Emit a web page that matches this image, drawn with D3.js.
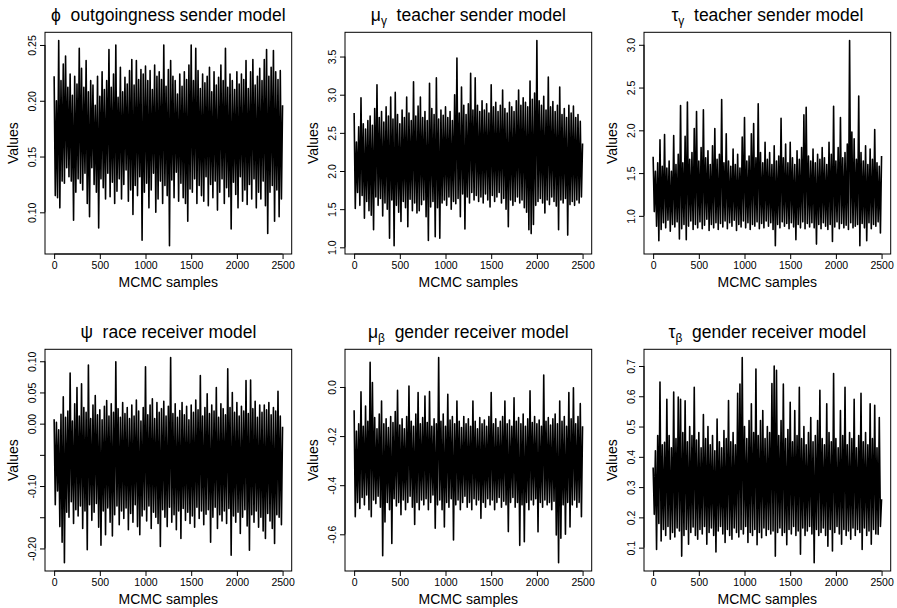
<!DOCTYPE html>
<html><head><meta charset="utf-8">
<script src="https://cdn.jsdelivr.net/npm/d3@7"></script>
<style>
body{margin:0;background:#fff}
svg{display:block}
text{font-family:"Liberation Sans",Arial,Helvetica,sans-serif;fill:#000;white-space:pre}
</style>
</head><body>
<svg id="chart" width="897" height="608"></svg>
<script>
// MCMC iteration numbers of the thinned draws that are drawn (every 12.5th draw of 2500)
const iterations = d3.range(201).map(i => i * 12.5);
const xTicks = [0, 500, 1000, 1500, 2000, 2500];

// ---- traces (alternating upper / lower excursions) ----
const phiOutgoingness = [
.222,.115,.200,.113,.254,.104,.218,.128,.233,.126,
.240,.140,.212,.132,.224,.128,.205,.093,.222,.118,
.215,.130,.247,.126,.229,.120,.212,.135,.236,.108,
.208,.096,.218,.140,.214,.125,.196,.118,.222,.086,
.204,.130,.226,.122,.210,.112,.218,.135,.246,.114,
.212,.127,.224,.108,.250,.119,.203,.130,.230,.112,
.208,.125,.221,.138,.215,.110,.227,.120,.237,.098,
.214,.124,.236,.115,.219,.132,.228,.075,.224,.118,
.231,.126,.218,.104,.227,.120,.210,.135,.232,.100,
.222,.112,.226,.128,.219,.108,.250,.124,.213,.115,
.228,.070,.236,.129,.222,.113,.218,.136,.206,.110,
.224,.126,.213,.113,.226,.108,.219,.092,.232,.121,
.250,.118,.218,.130,.247,.108,.227,.124,.211,.115,
.224,.110,.216,.132,.222,.106,.230,.125,.208,.113,
.226,.128,.214,.102,.221,.118,.232,.130,.218,.108,
.247,.122,.212,.114,.224,.085,.218,.127,.210,.116,
.226,.104,.215,.132,.224,.110,.219,.120,.236,.107,
.211,.125,.226,.112,.237,.130,.214,.104,.222,.118,
.229,.112,.218,.128,.237,.106,.246,.081,.222,.118,
.230,.124,.245,.092,.226,.120,.219,.096,.227,.112,
.196];

const muGammaTeacher = [
2.76,1.51,2.38,1.72,2.58,1.55,2.96,1.68,2.62,1.38,
2.55,1.60,2.66,1.48,2.72,1.42,2.60,1.23,2.82,1.66,
3.13,1.55,2.70,1.64,2.78,1.41,2.64,1.58,2.84,1.50,
2.72,1.12,2.97,1.62,2.68,1.02,3.03,1.55,2.74,1.46,
2.62,1.34,2.80,1.60,2.70,1.52,2.97,1.27,2.76,1.63,
2.66,1.48,3.17,1.58,2.72,1.45,2.85,1.48,2.97,1.56,
2.70,1.62,2.78,1.40,2.66,1.09,3.15,1.53,2.82,1.60,
2.74,1.14,3.22,1.52,2.68,1.12,2.80,1.58,2.73,1.62,
2.84,1.55,2.70,1.66,2.78,1.50,2.66,1.60,3.00,1.57,
3.48,1.64,2.76,1.40,3.10,1.70,2.86,1.24,2.74,1.66,
2.88,1.58,3.28,1.72,2.80,1.62,3.22,1.68,2.86,1.60,
2.78,1.66,2.92,1.58,2.80,1.70,2.88,1.62,2.76,1.53,
3.13,1.68,2.84,1.60,2.90,1.66,2.78,1.72,2.86,1.58,
3.06,1.64,2.82,1.50,2.76,1.27,2.90,1.62,2.84,1.55,
2.78,1.60,2.92,1.66,3.06,1.58,2.86,1.62,2.96,1.52,
2.90,1.46,2.84,1.23,3.18,1.18,2.94,1.30,3.02,1.55,
3.71,1.60,2.92,1.64,2.86,1.58,2.98,1.45,2.80,1.62,
3.23,1.56,2.84,1.66,2.91,1.60,2.78,1.54,2.86,1.23,
3.10,1.62,2.74,1.58,2.82,1.64,2.70,1.16,2.86,1.56,
2.76,1.60,2.85,1.55,2.70,1.62,2.74,1.58,2.65,1.66,
2.36];

const tauGammaTeacher = [
1.69,1.05,1.52,0.88,1.62,0.71,1.89,0.84,1.58,0.92,
1.95,0.86,1.56,0.95,1.64,0.82,1.52,0.90,1.94,0.87,
1.60,0.93,1.72,0.73,2.29,0.85,1.62,0.90,1.93,0.72,
2.33,0.88,1.66,0.94,1.74,0.84,2.02,0.90,2.22,0.86,
1.64,0.93,1.80,0.85,2.24,0.89,1.68,0.96,1.76,0.83,
1.60,0.90,1.82,0.86,2.02,0.92,1.66,0.84,1.72,0.91,
2.36,0.87,1.62,0.94,1.96,0.85,1.64,0.92,1.58,0.88,
1.78,0.95,1.60,0.83,1.72,0.90,1.56,0.87,1.92,0.94,
2.15,0.86,1.64,0.92,1.70,0.84,1.96,0.90,2.08,0.88,
1.68,0.93,2.31,0.85,1.74,0.91,1.62,0.86,1.86,0.94,
1.66,0.88,1.74,0.92,1.60,0.84,1.82,0.65,1.64,0.90,
1.70,0.86,2.14,0.93,1.68,0.88,1.84,0.91,1.62,0.85,
1.86,0.92,1.68,0.87,1.60,0.72,1.76,0.90,1.66,0.86,
1.80,0.93,2.18,0.85,2.27,0.91,1.70,0.87,1.64,0.92,
1.78,0.86,1.62,0.67,1.72,0.90,1.66,0.85,1.80,0.92,
1.68,0.88,1.60,0.84,1.86,0.90,1.72,0.70,2.28,0.87,
1.64,0.93,1.80,0.85,2.15,0.91,1.68,0.86,1.74,0.89,
1.84,0.84,3.05,0.92,1.98,0.86,1.90,0.88,1.66,0.90,
2.40,0.65,1.74,0.91,1.64,0.86,1.82,0.71,1.60,0.92,
1.78,0.85,1.66,0.90,2.01,0.88,1.62,0.93,1.58,0.80,
1.70];

const psiRace = [
0.007,-0.130,0.002,-0.108,-0.010,-0.165,0.015,-0.190,0.043,-0.223,
0.010,-0.142,0.020,-0.150,0.081,-0.125,0.004,-0.160,0.032,-0.138,
0.058,-0.148,0.012,-0.132,0.064,-0.168,0.026,-0.140,0.018,-0.202,
0.094,-0.130,0.008,-0.155,0.030,-0.142,0.045,-0.128,0.014,-0.166,
0.022,-0.195,0.006,-0.140,0.028,-0.178,0.037,-0.135,0.012,-0.158,
0.032,-0.180,0.018,-0.146,0.099,-0.132,0.024,-0.162,0.010,-0.140,
0.034,-0.152,0.016,-0.135,0.026,-0.170,0.008,-0.144,0.030,-0.158,
0.012,-0.130,0.038,-0.165,0.020,-0.178,0.004,-0.148,0.026,-0.138,
0.091,-0.156,0.014,-0.132,0.030,-0.168,0.040,-0.142,0.008,-0.150,
0.034,-0.160,0.018,-0.197,0.024,-0.138,0.036,-0.150,0.012,-0.165,
0.028,-0.134,0.106,-0.158,0.016,-0.146,0.032,-0.170,0.010,-0.140,
0.021,-0.184,0.034,-0.136,0.014,-0.155,0.028,-0.142,0.006,-0.160,
0.030,-0.148,0.018,-0.166,0.038,-0.134,0.022,-0.152,0.077,-0.140,
0.012,-0.162,0.026,-0.145,0.048,-0.138,0.016,-0.190,0.030,-0.150,
0.020,-0.134,0.058,-0.168,0.010,-0.146,0.032,-0.156,0.024,-0.140,
0.014,-0.160,0.088,-0.136,0.026,-0.211,0.050,-0.148,0.018,-0.158,
0.034,-0.142,0.012,-0.176,0.028,-0.150,0.020,-0.138,0.069,-0.164,
0.016,-0.203,0.070,-0.146,0.024,-0.158,0.036,-0.140,0.010,-0.166,
0.030,-0.150,0.018,-0.172,0.030,-0.184,0.022,-0.144,0.034,-0.156,
0.014,-0.168,0.026,-0.192,0.020,-0.146,0.052,-0.150,0.012,-0.162,
-0.005];

const muBetaGender = [
-0.095,-0.528,-0.180,-0.470,-0.150,-0.495,-0.020,-0.450,-0.160,-0.480,
-0.078,-0.440,-0.140,-0.500,0.100,-0.528,0.018,-0.460,-0.125,-0.475,
-0.170,-0.445,-0.110,-0.490,-0.057,-0.687,-0.150,-0.550,-0.130,-0.470,
-0.165,-0.500,-0.120,-0.637,-0.145,-0.455,-0.100,-0.485,-0.014,-0.470,
-0.155,-0.520,-0.130,-0.460,-0.170,-0.500,-0.120,-0.470,0.004,-0.445,
-0.140,-0.490,-0.160,-0.560,-0.110,-0.470,-0.023,-0.500,-0.150,-0.460,
-0.125,-0.480,-0.037,-0.455,-0.145,-0.500,-0.019,-0.470,-0.160,-0.440,
-0.130,-0.575,-0.150,-0.480,0.120,-0.460,-0.140,-0.500,-0.110,-0.570,
-0.160,-0.470,-0.030,-0.490,-0.135,-0.455,-0.120,-0.623,-0.150,-0.480,
-0.057,-0.460,-0.140,-0.500,-0.165,-0.470,-0.120,-0.445,-0.150,-0.490,
-0.130,-0.470,-0.160,-0.500,-0.057,-0.455,-0.140,-0.480,-0.170,-0.460,
-0.125,-0.535,-0.150,-0.470,-0.135,-0.490,-0.160,-0.455,-0.120,-0.480,
-0.023,-0.460,-0.150,-0.500,-0.130,-0.470,-0.165,-0.450,-0.140,-0.490,
-0.120,-0.465,-0.057,-0.480,-0.150,-0.589,-0.135,-0.470,-0.160,-0.450,
-0.044,-0.490,-0.140,-0.470,-0.125,-0.645,-0.150,-0.480,-0.110,-0.630,
-0.160,-0.470,-0.130,-0.500,-0.016,-0.460,-0.145,-0.480,-0.120,-0.455,
-0.150,-0.590,-0.135,-0.470,-0.160,-0.490,0.049,-0.460,-0.140,-0.480,
-0.125,-0.470,-0.155,-0.500,-0.130,-0.465,-0.110,-0.603,-0.150,-0.716,
-0.057,-0.616,-0.140,-0.480,-0.120,-0.600,-0.160,-0.470,-0.023,-0.570,
-0.130,-0.480,-0.003,-0.460,-0.150,-0.490,-0.120,-0.470,-0.068,-0.528,
-0.160];

const tauBetaGender = [
0.365,0.210,0.420,0.094,0.470,0.180,0.647,0.122,0.440,0.160,
0.448,0.140,0.590,0.170,0.470,0.128,0.430,0.150,0.614,0.135,
0.460,0.165,0.597,0.155,0.590,0.072,0.480,0.140,0.585,0.160,
0.450,0.111,0.500,0.150,0.470,0.168,0.630,0.140,0.455,0.128,
0.480,0.160,0.430,0.145,0.540,0.170,0.460,0.111,0.500,0.150,
0.440,0.165,0.470,0.140,0.420,0.086,0.525,0.155,0.450,0.170,
0.430,0.145,0.487,0.117,0.460,0.160,0.586,0.140,0.450,0.128,
0.480,0.165,0.440,0.150,0.610,0.135,0.640,0.160,0.728,0.145,
0.500,0.170,0.460,0.117,0.520,0.150,0.575,0.140,0.480,0.160,
0.690,0.110,0.470,0.150,0.520,0.133,0.553,0.165,0.460,0.140,
0.500,0.160,0.480,0.145,0.642,0.155,0.700,0.072,0.686,0.150,
0.470,0.165,0.520,0.140,0.640,0.150,0.460,0.110,0.490,0.160,
0.580,0.145,0.450,0.170,0.553,0.140,0.470,0.155,0.630,0.078,
0.460,0.165,0.500,0.140,0.440,0.155,0.480,0.170,0.530,0.145,
0.450,0.050,0.470,0.160,0.520,0.140,0.620,0.150,0.460,0.165,
0.440,0.140,0.575,0.105,0.480,0.160,0.450,0.089,0.675,0.150,
0.460,0.170,0.430,0.145,0.553,0.111,0.470,0.160,0.630,0.140,
0.440,0.155,0.480,0.128,0.460,0.165,0.590,0.140,0.430,0.160,
0.470,0.150,0.610,0.094,0.450,0.165,0.480,0.140,0.440,0.155,
0.575,0.111,0.460,0.160,0.570,0.145,0.430,0.144,0.530,0.170,
0.260];

// ---- y tick values and their printed labels ("" = tick without label) ----
const phiTicks = [0.10, 0.15, 0.20, 0.25];
const phiLabels = ["0.10", "0.15", "0.20", "0.25"];
const muGammaTicks = [1.0, 1.5, 2.0, 2.5, 3.0, 3.5];
const muGammaLabels = ["1.0", "1.5", "2.0", "2.5", "3.0", "3.5"];
const tauGammaTicks = [1.0, 1.5, 2.0, 2.5, 3.0];
const tauGammaLabels = ["1.0", "1.5", "2.0", "2.5", "3.0"];
const psiTicks = [-0.20, -0.15, -0.10, -0.05, 0.00, 0.05, 0.10];
const psiLabels = ["-0.20", "", "-0.10", "", "0.00", "0.05", "0.10"];
const muBetaTicks = [-0.6, -0.4, -0.2, 0.0];
const muBetaLabels = ["-0.6", "-0.4", "-0.2", "0.0"];
const tauBetaTicks = [0.1, 0.2, 0.3, 0.4, 0.5, 0.6, 0.7];
const tauBetaLabels = ["0.1", "0.2", "0.3", "0.4", "0.5", "0.6", "0.7"];

const panels = [
  {sym: "ϕ", sub: null, name: "outgoingness sender model", values: phiOutgoingness, ticks: phiTicks, labels: phiLabels},
  {sym: "μ", sub: "γ", name: "teacher sender model", values: muGammaTeacher, ticks: muGammaTicks, labels: muGammaLabels},
  {sym: "τ", sub: "γ", name: "teacher sender model", values: tauGammaTeacher, ticks: tauGammaTicks, labels: tauGammaLabels},
  {sym: "ψ", sub: null, name: "race receiver model", values: psiRace, ticks: psiTicks, labels: psiLabels},
  {sym: "μ", sub: "β", name: "gender receiver model", values: muBetaGender, ticks: muBetaTicks, labels: muBetaLabels},
  {sym: "τ", sub: "β", name: "gender receiver model", values: tauBetaGender, ticks: tauBetaTicks, labels: tauBetaLabels}
];

// ---- layout ----
const colLeft = [45, 345, 644];
const rowTop = [32.3, 349.3];
const W = 246.7, H = 221.7;

const svg = d3.select("#chart");

function pad4(ext) { const r = ext[1] - ext[0]; return [ext[0] - 0.04 * r, ext[1] + 0.04 * r]; }

panels.forEach((p, k) => {
  const left = colLeft[k % 3], top = rowTop[Math.floor(k / 3)];
  const g = svg.append("g").attr("transform", `translate(${left},${top})`);
  const x = d3.scaleLinear().domain(pad4(d3.extent(iterations))).range([0, W]);
  const y = d3.scaleLinear().domain(pad4(d3.extent(p.values))).range([H, 0]);

  // trace
  const line = d3.line().x((d, i) => x(iterations[i])).y(d => y(d));
  g.append("path").datum(p.values)
    .attr("d", line)
    .attr("fill", "none")
    .attr("stroke", "#000")
    .attr("stroke-width", 1.6)
    .attr("stroke-linejoin", "round");

  // box
  g.append("rect").attr("x", 0).attr("y", 0).attr("width", W).attr("height", H)
    .attr("fill", "none").attr("stroke", "#000").attr("stroke-width", 1);

  // x axis
  const xa = g.append("g").attr("transform", `translate(0,${H})`)
    .call(d3.axisBottom(x).tickValues(xTicks).tickFormat(d3.format("d")).tickSize(5).tickSizeOuter(0).tickPadding(2.5));
  xa.select(".domain").attr("d", `M${x(xTicks[0])},0H${x(xTicks[xTicks.length - 1])}`).attr("stroke", "#000");
  xa.selectAll(".tick line").attr("stroke", "#000");
  xa.selectAll("text").attr("font-size", 10.5).attr("font-family", null).style("fill", "#000");

  // y axis
  const ya = g.append("g")
    .call(d3.axisLeft(y).tickValues(p.ticks).tickFormat((d, i) => p.labels[i]).tickSize(5).tickSizeOuter(0));
  ya.select(".domain").attr("d", `M0,${y(p.ticks[0])}V${y(p.ticks[p.ticks.length - 1])}`).attr("stroke", "#000");
  ya.selectAll(".tick line").attr("stroke", "#000");
  ya.selectAll(".tick text")
    .attr("x", null).attr("dy", null)
    .attr("transform", "translate(-9,0) rotate(-90)")
    .attr("text-anchor", "middle")
    .attr("font-size", 10.5).attr("font-family", null).style("fill", "#000");

  // axis titles
  g.append("text").attr("x", W / 2).attr("y", H + 32.7).attr("text-anchor", "middle")
    .attr("font-size", 14).text("MCMC samples");
  g.append("text").attr("transform", `translate(-26.7,${H / 2}) rotate(-90)`).attr("text-anchor", "middle")
    .attr("font-size", 14).text("Values");

  // title
  const t = g.append("text").attr("x", W / 2).attr("y", -11.5).attr("text-anchor", "middle").attr("font-size", 17.5);
  t.append("tspan").text(p.sym);
  if (p.sub) {
    t.append("tspan").attr("font-size", 12).attr("dy", 4).text(p.sub);
    t.append("tspan").attr("dy", -4).text("  " + p.name);
  } else {
    t.append("tspan").text("  " + p.name);
  }
});
</script>
</body></html>
